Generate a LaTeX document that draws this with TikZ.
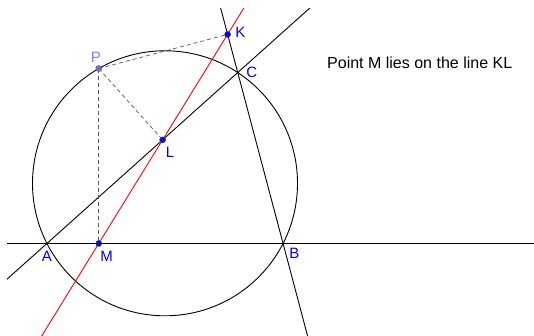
\documentclass[tikz,border=0pt]{standalone}
\usepackage{fontspec}
\setmainfont{Liberation Sans}
\usetikzlibrary{calc,positioning}
\definecolor{PointBlue}{HTML}{0000FF}
\definecolor{LabelBlue}{HTML}{0000FF}
\definecolor{PaleBlue}{HTML}{7F7FFF}
\definecolor{FreeBlue}{HTML}{6666EE}
\definecolor{LineRed}{HTML}{FF0000}
\definecolor{DashGray}{HTML}{555555}

\begin{document}
\begin{tikzpicture}[
  x=1pt,y=1pt,
  dot/.style={circle,draw=black!75,fill=PointBlue,inner sep=0pt,minimum size=6pt,line width=0.5pt},
  freedot/.style={dot,fill=FreeBlue,draw=black!60},
  lbl/.style={text=LabelBlue,font=\fontsize{15}{18}\selectfont,inner sep=0pt},
  plain/.style={black,line width=0.9pt},
  simson/.style={LineRed,line width=0.9pt},
  helper/.style={DashGray,line width=0.7pt,dash pattern=on 4pt off 3pt}
]
\useasboundingbox (0,0) rectangle (534,336);
\coordinate (O) at (165,152.7);
\coordinate (A) at ($(O)+(207:132.5)$);
\coordinate (B) at ($(O)+(333:132.5)$);
\coordinate (C) at ($(O)+(56.7:132.5)$);
\coordinate (P) at ($(O)+(120:132.5)$);
\coordinate (K) at ($(B)!(P)!(C)$);
\coordinate (L) at ($(A)!(P)!(C)$);
\coordinate (M) at ($(A)!(P)!(B)$);

\begin{scope}
\clip (7,0) rectangle (534,327);
\draw[plain] (O) circle (132.5);
\draw[plain] ($(A)!-2!(B)$) -- ($(A)!3!(B)$);
\draw[plain] ($(A)!-2!(C)$) -- ($(A)!3!(C)$);
\draw[plain] ($(B)!-2!(C)$) -- ($(B)!3!(C)$);
\draw[simson] ($(M)!-2!(K)$) -- ($(M)!3!(K)$);
\end{scope}

\draw[helper] (P) -- (K);
\draw[helper] (P) -- (L);
\draw[helper] (P) -- (M);

\node[dot] (pK) at (K) {};
\node[dot] (pL) at (L) {};
\node[dot] (pM) at (M) {};
\node[freedot] (pP) at (P) {};

\node[lbl,below=8pt of A] (lA) {A};
\node[lbl,below right=4.6pt and 6pt of B] (lB) {B};
\node[lbl,right=8.5pt of C] (lC) {C};
\node[lbl,right=7.5pt of K,yshift=2pt] (lK) {K};
\node[lbl,below right=7pt and 3pt of L] (lL) {L};
\node[lbl,below right=8pt and 1.5pt of M] (lM) {M};
\node[lbl,text=PaleBlue,above=6pt of P,xshift=-2.75pt] (lP) {P};

\node[anchor=west,font=\fontsize{16}{19}\selectfont,inner sep=0pt] (note) at (327,273.3) {Point M lies on the line KL};
\end{tikzpicture}
\end{document}
